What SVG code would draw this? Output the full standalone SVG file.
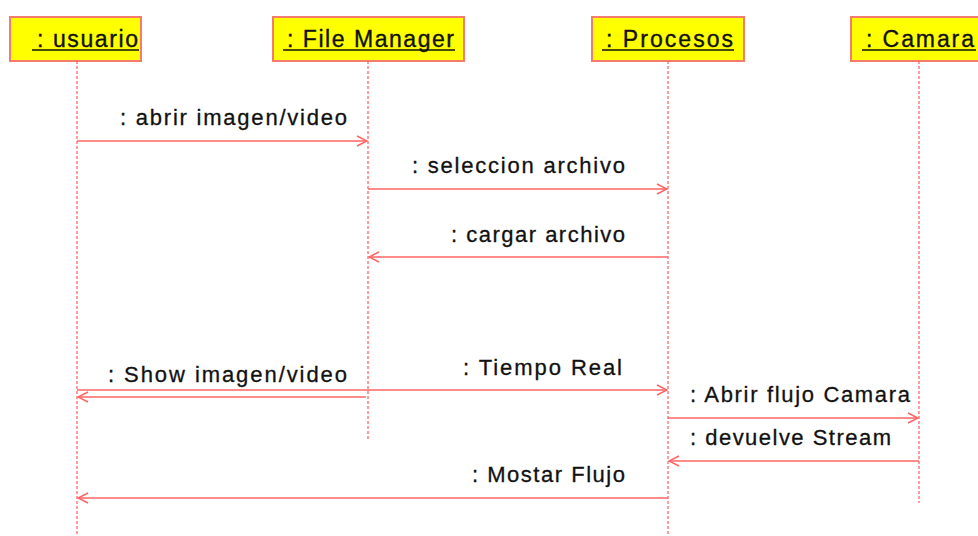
<svg xmlns="http://www.w3.org/2000/svg" width="978" height="536" viewBox="0 0 978 536">
  <style>
    .box { fill: #ffff00; stroke: #f47c6c; stroke-width: 2; }
    .hdr { font-family: "Liberation Sans", Arial, sans-serif; font-size: 23px; fill: #111; stroke: #111; stroke-width: 0.35; }
    .ul { stroke: #111; stroke-width: 1.6; }
    .life { stroke: #ff5a5a; stroke-width: 1.2; stroke-dasharray: 3 2; fill: none; }
    .msg { stroke: #ff6464; stroke-width: 1.6; fill: none; }
    .lbl { font-family: "Liberation Sans", Arial, sans-serif; font-size: 22px; fill: #111; stroke: #111; stroke-width: 0.3; }
  </style>
  <defs>
    <marker id="open" viewBox="0 0 12 12" refX="11" refY="6" markerWidth="12" markerHeight="12" markerUnits="userSpaceOnUse" orient="auto">
      <path d="M1,1 L11,6 L1,11" fill="none" stroke="#ff6464" stroke-width="1.5"/>
    </marker>
  </defs>
  <rect width="978" height="536" fill="#ffffff"/>

  <g id="usuario">
    <rect class="box" x="10" y="17" width="131" height="44"/>
    <text class="hdr" x="37" y="47" textLength="101" lengthAdjust="spacing">: usuario</text>
    <line class="ul" x1="32" y1="50" x2="139" y2="50"/>
    <line class="life" x1="77" y1="61" x2="77" y2="536"/>
  </g>
  <g id="file-manager">
    <rect class="box" x="273" y="17" width="191" height="44"/>
    <text class="hdr" x="287" y="47" textLength="167" lengthAdjust="spacing">: File Manager</text>
    <line class="ul" x1="283" y1="50" x2="455" y2="50"/>
    <line class="life" x1="368" y1="61" x2="368" y2="440"/>
  </g>
  <g id="procesos">
    <rect class="box" x="592" y="17" width="152" height="44"/>
    <text class="hdr" x="606" y="47" textLength="127" lengthAdjust="spacing">: Procesos</text>
    <line class="ul" x1="602" y1="50" x2="734" y2="50"/>
    <line class="life" x1="668" y1="61" x2="668" y2="536"/>
  </g>
  <g id="camara">
    <rect class="box" x="851" y="17" width="140" height="44"/>
    <text class="hdr" x="866" y="47" textLength="108" lengthAdjust="spacing">: Camara</text>
    <line class="ul" x1="862" y1="50" x2="976" y2="50"/>
    <line class="life" x1="919" y1="61" x2="919" y2="503"/>
  </g>

  <g id="connectors">
    <line class="msg" x1="77" y1="141" x2="367" y2="141" marker-end="url(#open)"/>
    <line class="msg" x1="368" y1="189" x2="667" y2="189" marker-end="url(#open)"/>
    <line class="msg" x1="668" y1="257" x2="369" y2="257" marker-end="url(#open)"/>
    <line class="msg" x1="77" y1="390" x2="667" y2="390" marker-end="url(#open)"/>
    <line class="msg" x1="366" y1="397" x2="78" y2="397" marker-end="url(#open)"/>
    <line class="msg" x1="668" y1="418" x2="918" y2="418" marker-end="url(#open)"/>
    <line class="msg" x1="919" y1="461" x2="669" y2="461" marker-end="url(#open)"/>
    <line class="msg" x1="668" y1="498" x2="78" y2="498" marker-end="url(#open)"/>
  </g>

  <g id="labels">
    <text class="lbl" x="120" y="125" textLength="227" lengthAdjust="spacing">: abrir imagen/video</text>
    <text class="lbl" x="412" y="173" textLength="213" lengthAdjust="spacing">: seleccion archivo</text>
    <text class="lbl" x="451" y="242" textLength="174" lengthAdjust="spacing">: cargar archivo</text>
    <text class="lbl" x="463" y="375" textLength="159" lengthAdjust="spacing">: Tiempo Real</text>
    <text class="lbl" x="108" y="382" textLength="239" lengthAdjust="spacing">: Show imagen/video</text>
    <text class="lbl" x="690" y="402" textLength="220" lengthAdjust="spacing">: Abrir flujo Camara</text>
    <text class="lbl" x="690" y="445" textLength="201" lengthAdjust="spacing">: devuelve Stream</text>
    <text class="lbl" x="472" y="482" textLength="153" lengthAdjust="spacing">: Mostar Flujo</text>
  </g>
</svg>
